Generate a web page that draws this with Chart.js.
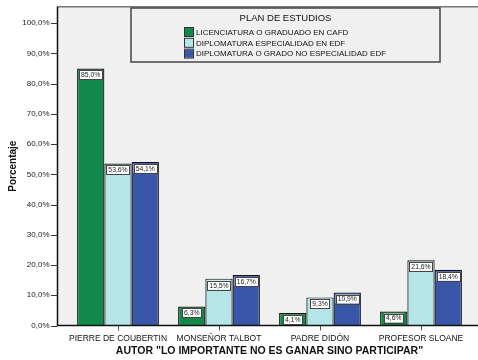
<!DOCTYPE html>
<html>
<head>
<meta charset="utf-8">
<script src="https://cdn.jsdelivr.net/npm/chart.js@4"></script>
<style>
    body { margin: 0; background: #ffffff; }
    #wrap { width: 478px; height: 360px; }
</style>
</head>
<body>
<div id="wrap"><canvas id="barChart" width="478" height="360"></canvas></div>
<script>
const autores = ["PIERRE DE COUBERTIN", "MONSEÑOR TALBOT", "PADRE DIDÓN", "PROFESOR SLOANE"];
const licenciatura = [85.0, 6.3, 4.1, 4.6];
const diplomaturaEdf = [53.6, 15.5, 9.3, 21.6];
const diplomaturaNoEdf = [54.1, 16.7, 10.9, 18.4];
const planes = [
    "LICENCIATURA O GRADUADO EN CAFD",
    "DIPLOMATURA ESPECIALIDAD EN EDF",
    "DIPLOMATURA O GRADO NO ESPECIALIDAD EDF"
];
const colores = ["#12894a", "#b5e5e6", "#3a56a8"];

const FONT = "'Liberation Sans', Arial, sans-serif";

function fmt(v) {
    return v.toFixed(1).replace(".", ",") + "%";
}

// plot frame, value boxes and the legend box
const spssPlugin = {
    id: "spss",
    beforeDraw(chart) {
        const ctx = chart.ctx;
        const a = chart.chartArea;
        ctx.save();
        ctx.fillStyle = "#f0f0f0";
        ctx.fillRect(57, a.top, chart.width - 57, a.bottom - a.top);
        ctx.restore();
    },
    afterDatasetsDraw(chart) {
        const ctx = chart.ctx;
        const a = chart.chartArea;
        const yScale = chart.scales.y;
        ctx.save();
        ctx.strokeStyle = "#777777";
        ctx.lineWidth = 1.5;
        ctx.beginPath();
        ctx.moveTo(57, a.top);
        ctx.lineTo(chart.width, a.top);
        ctx.stroke();
        ctx.strokeStyle = "#111111";
        ctx.lineWidth = 1.5;
        ctx.beginPath();
        ctx.moveTo(57.5, a.top);
        ctx.lineTo(57.5, a.bottom);
        ctx.lineTo(chart.width, a.bottom);
        ctx.stroke();

        // y tick marks
        ctx.strokeStyle = "#333333";
        ctx.lineWidth = 1;
        yScale.ticks.forEach(t => {
            const py = Math.round(yScale.getPixelForValue(t.value)) + 0.5;
            ctx.beginPath();
            ctx.moveTo(51, py);
            ctx.lineTo(57, py);
            ctx.stroke();
        });

        // value boxes
        ctx.font = "6.8px " + FONT;
        ctx.textAlign = "center";
        ctx.textBaseline = "middle";
        chart.data.datasets.forEach((ds, i) => {
            chart.getDatasetMeta(i).data.forEach((bar, j) => {
                const txt = fmt(ds.data[j]);
                const w = ctx.measureText(txt).width + 4;
                const h = 9;
                const x = bar.x - w / 2;
                const y = bar.y + 2;
                ctx.fillStyle = "#ffffff";
                ctx.fillRect(x, y, w, h);
                ctx.strokeStyle = "#444444";
                ctx.lineWidth = 1;
                ctx.strokeRect(Math.round(x) + 0.5, Math.round(y) + 0.5, Math.round(w), h);
                ctx.fillStyle = "#222222";
                ctx.fillText(txt, bar.x, y + h / 2 + 0.5);
            });
        });

        // legend
        ctx.fillStyle = "#f0f0f0";
        ctx.fillRect(131, 8, 309, 54);
        ctx.strokeStyle = "#444444";
        ctx.lineWidth = 1.5;
        ctx.strokeRect(131, 8, 309, 54);
        ctx.fillStyle = "#111111";
        ctx.font = "9.5px " + FONT;
        ctx.textAlign = "center";
        ctx.fillText("PLAN DE ESTUDIOS", 285.5, 18);
        ctx.font = "8px " + FONT;
        ctx.textAlign = "left";
        chart.data.datasets.forEach((ds, i) => {
            const y = 32 + i * 10.8;
            ctx.fillStyle = ds.backgroundColor;
            ctx.fillRect(184, y - 4, 9, 8);
            ctx.strokeStyle = "#333333";
            ctx.lineWidth = 1;
            ctx.strokeRect(184.5, y - 4.5, 9, 9);
            ctx.fillStyle = "#111111";
            ctx.fillText(ds.label, 196, y + 0.5);
        });
        ctx.restore();
    }
};

const ctx = document.getElementById("barChart").getContext("2d");
const series = [licenciatura, diplomaturaEdf, diplomaturaNoEdf];

new Chart(ctx, {
    type: "bar",
    data: {
        labels: autores,
        datasets: series.map((values, i) => ({
            label: planes[i],
            data: values,
            backgroundColor: colores[i],
            borderColor: "#111111",
            borderWidth: 1.2,
            barPercentage: 1.0,
            categoryPercentage: 0.81
        }))
    },
    options: {
        responsive: false,
        animation: false,
        layout: { padding: { top: 4, right: 6.5, left: 0, bottom: 0 } },
        plugins: {
            legend: { display: false },
            tooltip: { enabled: false }
        },
        scales: {
            x: {
                grid: {
                    offset: false,
                    drawOnChartArea: false,
                    drawTicks: true,
                    tickLength: 5,
                    tickColor: "#555555"
                },
                border: { display: false },
                ticks: {
                    color: "#111111",
                    font: { family: FONT, size: 8.5 },
                    padding: 3,
                    maxRotation: 0,
                    autoSkip: false
                },
                title: {
                    display: true,
                    text: "AUTOR \"LO IMPORTANTE NO ES GANAR SINO PARTICIPAR\"",
                    color: "#111111",
                    font: { family: FONT, size: 10.5, weight: "bold" },
                    padding: { top: 1, bottom: 3 }
                },
                afterFit(scale) { scale.height = 34.5; }
            },
            y: {
                min: 0,
                max: 105.4,
                afterBuildTicks(scale) {
                    scale.ticks = scale.ticks.filter(t => Math.abs(t.value % 10) < 0.001);
                },
                grid: {
                    drawOnChartArea: false,
                    drawTicks: true,
                    tickLength: 16,
                    tickColor: "rgba(0,0,0,0)"
                },
                border: { display: false },
                ticks: {
                    stepSize: 10,
                    color: "#222222",
                    font: { family: FONT, size: 8 },
                    padding: 2,
                    callback: v => fmt(v)
                },
                title: {
                    display: true,
                    text: "Porcentaje",
                    color: "#111111",
                    font: { family: FONT, size: 10, weight: "bold" },
                    padding: { top: 7, bottom: 0 }
                },
                afterFit(scale) { scale.width = 67.5; }
            }
        }
    },
    plugins: [spssPlugin]
});
</script>
</body>
</html>
